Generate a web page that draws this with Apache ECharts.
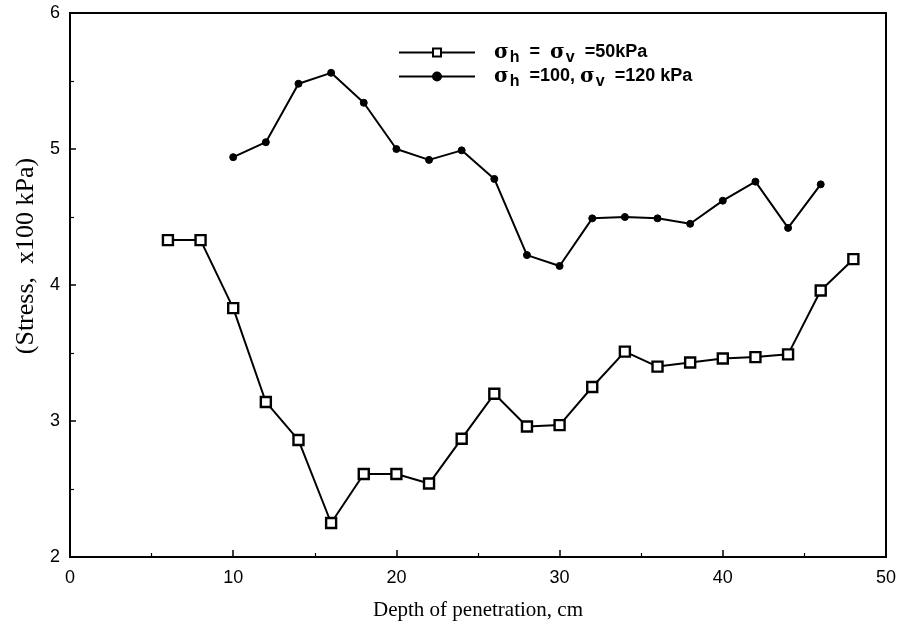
<!DOCTYPE html>
<html>
<head>
<meta charset="utf-8">
<script src="https://cdn.jsdelivr.net/npm/echarts@6/dist/echarts.min.js"></script>
<style>
  html, body { margin: 0; padding: 0; background: #fff; }
  #chart { width: 905px; height: 638px; }
</style>
</head>
<body>
<div id="chart"></div>
<script>
// Depth of penetration (cm) for each reading
const depthEqual = [6, 8, 10, 12, 14, 16, 18, 20, 22, 24, 26, 28, 30, 32, 34, 36, 38, 40, 42, 44, 46, 48];
// Stress (x100 kPa), σh = σv = 50 kPa
const stressEqual = [4.33, 4.33, 3.83, 3.14, 2.86, 2.25, 2.61, 2.61, 2.54, 2.87, 3.20, 2.96, 2.97, 3.25, 3.51, 3.40, 3.43, 3.46, 3.47, 3.49, 3.96, 4.19];

const depthUnequal = [10, 12, 14, 16, 18, 20, 22, 24, 26, 28, 30, 32, 34, 36, 38, 40, 42, 44, 46];
// Stress (x100 kPa), σh = 100, σv = 120 kPa
const stressUnequal = [4.94, 5.05, 5.48, 5.56, 5.34, 5.00, 4.92, 4.99, 4.78, 4.22, 4.14, 4.49, 4.50, 4.49, 4.45, 4.62, 4.76, 4.42, 4.74];

const xTicks = [0, 10, 20, 30, 40, 50];
const yTicks = [2, 3, 4, 5, 6];

const seriesNames = ['eq', 'uneq'];
const legendText = {
  eq: '{s|σ}{sub|h}{t|  =  }{s|σ}{sub|v}{t|  =50kPa}',
  uneq: '{s|σ}{sub|h}{t|  =100, }{s|σ}{sub|v}{t|  =120 kPa}'
};
const yTitle = '(Stress,  x100 kPa)';

const pairs = (xs, ys) => xs.map((x, i) => [x, ys[i]]);

const chart = echarts.init(document.getElementById('chart'));
chart.setOption({
  backgroundColor: '#fff',
  animation: false,
  grid: {
    left: 70, right: 19, top: 13, bottom: 81,
    show: true, borderColor: '#000', borderWidth: 2
  },
  legend: {
    orient: 'vertical',
    left: 393, top: 34,
    itemWidth: 76, itemHeight: 10, itemGap: -3,
    data: seriesNames,
    formatter: n => legendText[n],
    textStyle: {
      padding: [0, 0, 0, 14],
      rich: {
        s: { fontFamily: 'DejaVu Serif', fontSize: 20, color: '#000', fontWeight: 'bold', lineHeight: 22 },
        sub: { fontFamily: 'Liberation Sans', fontSize: 16, fontWeight: 'bold', color: '#000', padding: [11, 0, 0, 1], lineHeight: 22 },
        t: { fontFamily: 'Liberation Sans Narrow, Liberation Sans', fontSize: 18, fontWeight: 'bold', color: '#000', lineHeight: 22 }
      }
    }
  },
  graphic: [{
    type: 'text',
    x: 26, y: 256,
    rotation: Math.PI / 2,
    style: {
      text: yTitle,
      fontFamily: 'Liberation Serif', fontSize: 26, fill: '#000',
      align: 'center', verticalAlign: 'middle'
    }
  }],
  xAxis: {
    type: 'value', min: 0, max: 50, interval: 10,
    name: 'Depth of penetration, cm',
    nameLocation: 'middle', nameGap: 43,
    nameTextStyle: { fontFamily: 'Liberation Serif', fontSize: 21, color: '#000' },
    axisLine: { lineStyle: { color: '#000', width: 2 } },
    axisTick: { inside: true, length: 7, lineStyle: { color: '#000', width: 1.5 } },
    minorTick: { show: true, splitNumber: 2, length: 4, lineStyle: { color: '#000', width: 1.2 } },
    splitLine: { show: false },
    axisLabel: {
      margin: 12, fontFamily: 'Liberation Sans', fontSize: 18, color: '#000',
      formatter: v => (xTicks.includes(v) ? String(v) : '')
    }
  },
  yAxis: {
    type: 'value', min: 2, max: 6, interval: 1,
    axisLine: { lineStyle: { color: '#000', width: 2 } },
    axisTick: { inside: true, length: 6, lineStyle: { color: '#000', width: 1.5 } },
    minorTick: { show: true, splitNumber: 2, length: 4, lineStyle: { color: '#000', width: 1.2 } },
    splitLine: { show: false },
    axisLabel: {
      margin: 10, fontFamily: 'Liberation Sans', fontSize: 18, color: '#000',
      formatter: v => (yTicks.includes(v) ? String(v) : '')
    }
  },
  series: [
    {
      name: 'eq', type: 'line',
      data: pairs(depthEqual, stressEqual),
      symbol: 'rect', symbolSize: 10,
      lineStyle: { color: '#000', width: 2 },
      itemStyle: { color: '#fff', borderColor: '#000', borderWidth: 2.4 }
    },
    {
      name: 'uneq', type: 'line',
      data: pairs(depthUnequal, stressUnequal),
      symbol: 'circle', symbolSize: 7,
      lineStyle: { color: '#000', width: 2 },
      itemStyle: { color: '#000', borderColor: '#000', borderWidth: 1 }
    }
  ]
});
</script>
</body>
</html>
